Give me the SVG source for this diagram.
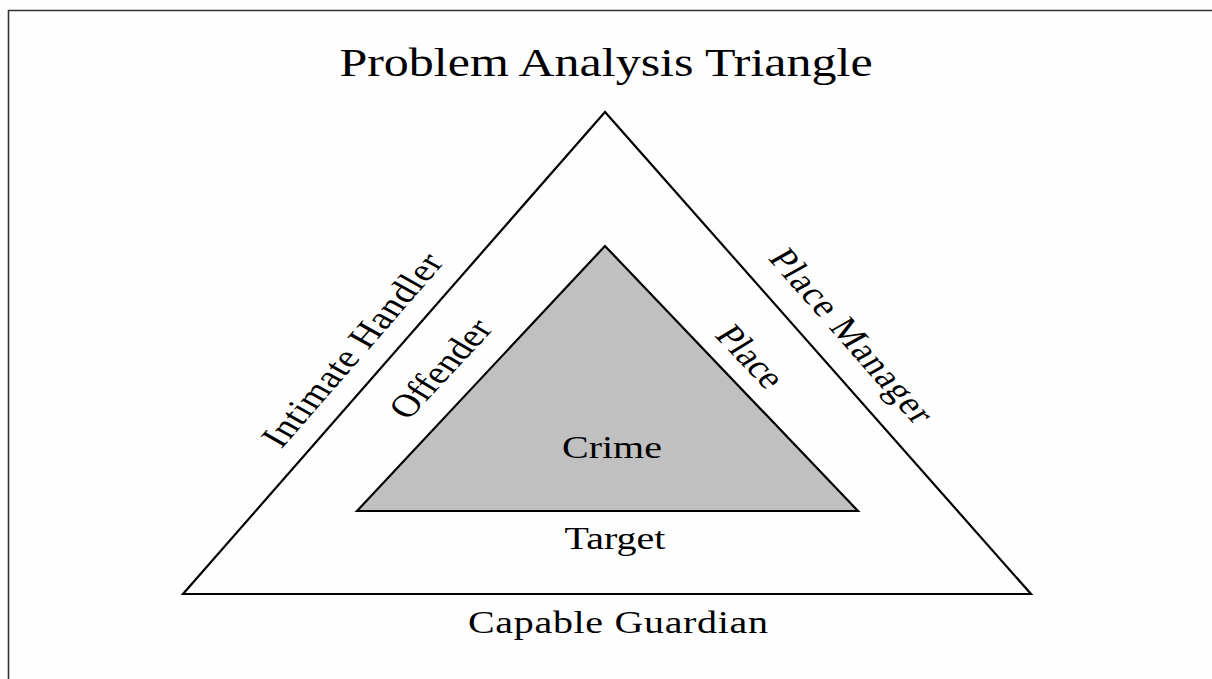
<svg xmlns="http://www.w3.org/2000/svg" width="1212" height="679" viewBox="0 0 1212 679">
  <style>
    .lbl { font-family: "Liberation Serif", "Times New Roman", serif; font-size: 32px; fill: #000; text-anchor: middle; }
    .title { font-family: "Liberation Serif", "Times New Roman", serif; font-size: 40px; fill: #000; text-anchor: middle; }
    .edge { fill: none; stroke: #000; stroke-width: 2.2; stroke-linejoin: miter; }
  </style>
  <rect x="0" y="0" width="1212" height="679" fill="#fefefe"/>
  <g id="frame">
    <path d="M8.5,679 L8.5,10.5 L1212,10.5" fill="none" stroke="#333" stroke-width="1.6"/>
  </g>
  <g id="title">
    <text class="title" transform="translate(606,76) scale(1.25,1)">Problem Analysis Triangle</text>
  </g>
  <g id="outer-triangle">
    <polygon class="edge" points="605,112 183,594 1031,594" fill="#fff"/>
  </g>
  <g id="inner-triangle">
    <polygon class="edge" points="605,246 357,511 858,511" style="fill:#c0c0c0"/>
    <text class="lbl" transform="translate(612,458) scale(1.25,1)">Crime</text>
  </g>
  <g id="labels">
    <text class="lbl" transform="translate(363,356) scale(1.25,1) rotate(-55)" textLength="228" lengthAdjust="spacing">Intimate Handler</text>
    <text class="lbl" transform="translate(451,375) scale(1.25,1) rotate(-53.2)">Offender</text>
    <text class="lbl" transform="translate(841,342) scale(1.25,1) rotate(54.8)" textLength="205" lengthAdjust="spacing">Place Manager</text>
    <text class="lbl" transform="translate(740,363) scale(1.25,1) rotate(52.7)">Place</text>
    <text class="lbl" transform="translate(615,549) scale(1.25,1)">Target</text>
    <text class="lbl" transform="translate(618,633) scale(1.25,1)" textLength="240" lengthAdjust="spacing">Capable Guardian</text>
  </g>
  <g id="connectors"></g>
</svg>
